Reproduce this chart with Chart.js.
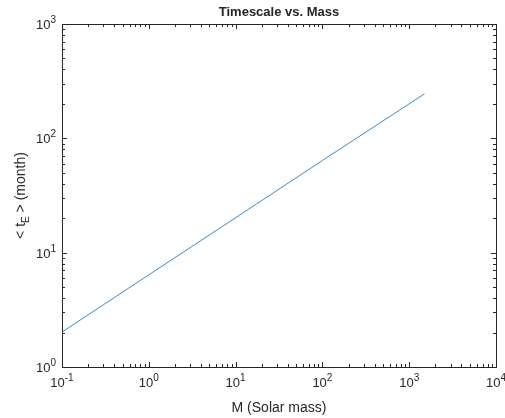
<!DOCTYPE html>
<html>
<head>
<meta charset="utf-8">
<script src="https://cdn.jsdelivr.net/npm/chart.js@4"></script>
<style>
  body { margin: 0; background: #fff; }
  #wrap { width: 505px; height: 418px; position: relative; }
</style>
</head>
<body>
<div id="wrap"><canvas id="massChart"></canvas></div>
<script>
// values
var massValues = [0.1, 1, 10, 100, 1500];
var timescaleValues = [2.02, 6.4, 20.2, 64, 245];
var xTickExps = [-1, 0, 1, 2, 3, 4];
var yTickExps = [0, 1, 2, 3];

var axisColor = '#262626';
var fontFam = '"Liberation Sans", Arial, sans-serif';

var points = massValues.map(function(m, i) { return { x: m, y: timescaleValues[i] }; });

// draws the matlab style box, inward ticks and 10^n labels
var matlabAxes = {
    id: 'matlabAxes',
    afterDraw: function(chart) {
        var ctx = chart.ctx;
        var a = chart.chartArea;
        var xs = chart.scales.x, ys = chart.scales.y;
        ctx.save();
        ctx.strokeStyle = axisColor;
        ctx.lineWidth = 1;
        ctx.strokeRect(Math.round(a.left) + 0.5, Math.round(a.top) + 0.5,
            Math.round(a.right - a.left), Math.round(a.bottom - a.top));

        function tickMark(px, horiz, len) {
            ctx.beginPath();
            if (horiz) {
                var x = Math.round(px) + 0.5;
                ctx.moveTo(x, a.bottom); ctx.lineTo(x, a.bottom - len);
                ctx.moveTo(x, a.top); ctx.lineTo(x, a.top + len);
            } else {
                var y = Math.round(px) + 0.5;
                ctx.moveTo(a.left, y); ctx.lineTo(a.left + len, y);
                ctx.moveTo(a.right, y); ctx.lineTo(a.right - len, y);
            }
            ctx.stroke();
        }
        xTickExps.forEach(function(e, i) {
            tickMark(xs.getPixelForValue(Math.pow(10, e)), true, 5);
            if (i < xTickExps.length - 1) {
                for (var k = 2; k < 10; k++) tickMark(xs.getPixelForValue(k * Math.pow(10, e)), true, 3);
            }
        });
        yTickExps.forEach(function(e, i) {
            tickMark(ys.getPixelForValue(Math.pow(10, e)), false, 5);
            if (i < yTickExps.length - 1) {
                for (var k = 2; k < 10; k++) tickMark(ys.getPixelForValue(k * Math.pow(10, e)), false, 3);
            }
        });

        ctx.fillStyle = axisColor;
        function powLabel(e, x, y, align) {
            var base = '10', sup = String(e);
            ctx.font = '13px ' + fontFam;
            var wb = ctx.measureText(base).width;
            ctx.font = '10px ' + fontFam;
            var ws = ctx.measureText(sup).width;
            var start = align === 'center' ? x - (wb + ws) / 2 : x - (wb + ws);
            ctx.textAlign = 'left';
            ctx.textBaseline = 'alphabetic';
            ctx.font = '13px ' + fontFam;
            ctx.fillText(base, start, y);
            ctx.font = '10px ' + fontFam;
            ctx.fillText(sup, start + wb, y - 6);
        }
        xTickExps.forEach(function(e) {
            powLabel(e, xs.getPixelForValue(Math.pow(10, e)), a.bottom + 20, 'center');
        });
        yTickExps.forEach(function(e) {
            powLabel(e, a.left - 6, ys.getPixelForValue(Math.pow(10, e)) + 5, 'right');
        });

        // title and axis labels
        ctx.textAlign = 'center';
        ctx.textBaseline = 'middle';
        ctx.font = 'bold 13px ' + fontFam;
        ctx.fillText('Timescale vs. Mass', (a.left + a.right) / 2, 12);
        ctx.font = '14px ' + fontFam;
        ctx.fillText('M (Solar mass)', (a.left + a.right) / 2, 408);

        ctx.translate(21, (a.top + a.bottom) / 2);
        ctx.rotate(-Math.PI / 2);
        var p1 = '< t', sub = 'E', p2 = ' > (month)';
        ctx.font = '14px ' + fontFam;
        var w1 = ctx.measureText(p1).width, w2 = ctx.measureText(p2).width;
        ctx.font = '10px ' + fontFam;
        var wsb = ctx.measureText(sub).width;
        var sx = -(w1 + wsb + w2) / 2;
        ctx.textAlign = 'left';
        ctx.font = '14px ' + fontFam;
        ctx.fillText(p1, sx, 0);
        ctx.font = '10px ' + fontFam;
        ctx.fillText(sub, sx + w1, 5);
        ctx.font = '14px ' + fontFam;
        ctx.fillText(p2, sx + w1 + wsb, 0);
        ctx.restore();
    }
};

var ctx1 = document.getElementById('massChart').getContext('2d');
var massChart = new Chart(ctx1, {
    type: 'line',
    data: {
        datasets: [{
            label: 'Timescale',
            data: points,
            borderColor: '#3a8dc6',
            borderWidth: 1,
            pointRadius: 0,
            tension: 0,
            fill: false
        }]
    },
    options: {
        responsive: true,
        maintainAspectRatio: false,
        animation: false,
        layout: { padding: { left: 62, top: 24, right: 9, bottom: 51 } },
        plugins: { legend: { display: false }, tooltip: { enabled: false } },
        scales: {
            x: {
                type: 'logarithmic', min: 0.1, max: 10000,
                grid: { display: false }, border: { display: false },
                ticks: { display: false },
                afterFit: function(s) { s.height = 0; }
            },
            y: {
                type: 'logarithmic', min: 1, max: 1000,
                grid: { display: false }, border: { display: false },
                ticks: { display: false },
                afterFit: function(s) { s.width = 0; }
            }
        }
    },
    plugins: [matlabAxes]
});
</script>
</body>
</html>
